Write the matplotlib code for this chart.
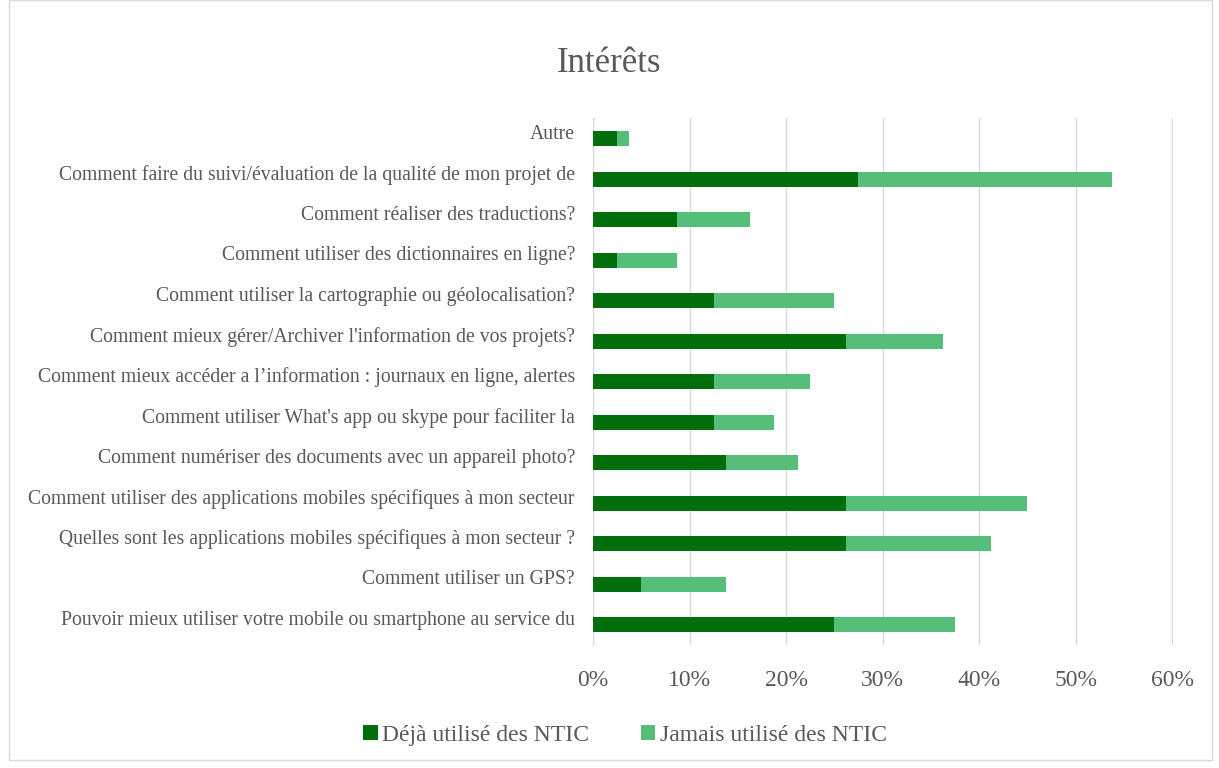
import matplotlib.pyplot as plt
import matplotlib.transforms as mtransforms
from matplotlib.patches import Rectangle
from matplotlib.ticker import PercentFormatter

plt.rcParams['font.family'] = ['Liberation Serif', 'DejaVu Serif']

# categories from top to bottom
categories = [
    "Autre",
    "Comment faire du suivi/évaluation de la qualité de mon projet de",
    "Comment réaliser des traductions?",
    "Comment utiliser des dictionnaires en ligne?",
    "Comment utiliser la cartographie ou géolocalisation?",
    "Comment mieux gérer/Archiver l'information de vos projets?",
    "Comment mieux accéder a l’information : journaux en ligne, alertes",
    "Comment utiliser What's app ou skype pour faciliter la",
    "Comment numériser des documents avec un appareil photo?",
    "Comment utiliser des applications mobiles spécifiques à mon secteur",
    "Quelles sont les applications mobiles spécifiques à mon secteur ?",
    "Comment utiliser un GPS?",
    "Pouvoir mieux utiliser votre mobile ou smartphone au service du",
]
deja = [2.5, 27.5, 8.75, 2.5, 12.5, 26.25, 12.5, 12.5, 13.75, 26.25, 26.25, 5.0, 25.0]
jamais = [1.25, 26.25, 7.5, 6.25, 12.5, 10.0, 10.0, 6.25, 7.5, 18.75, 15.0, 8.75, 12.5]

dark = '#006E0B'
light = '#55BE78'
grey = '#595959'

fig = plt.figure(figsize=(12.19, 7.68), dpi=100)
ax = fig.add_axes([0.4865, 0.160, 0.4758, 0.686])

y = list(range(len(categories)))
ax.barh(y, deja, height=0.37, color=dark, label='Déjà utilisé des NTIC', zorder=3)
ax.barh(y, jamais, left=deja, height=0.37, color=light, label='Jamais utilisé des NTIC', zorder=3)

ax.set_ylim(len(categories) - 0.5, -0.5)
ax.set_xlim(0, 60.1)
ax.set_xticks(range(0, 61, 10))
ax.xaxis.set_major_formatter(PercentFormatter(decimals=0))
ax.set_yticks(y)
ax.set_yticklabels(categories, fontsize=14.2, color=grey)
ax.tick_params(axis='x', labelsize=17, colors=grey, length=0, pad=18)
ax.tick_params(axis='y', length=0, pad=13)
ax.grid(axis='x', color='#D9D9D9', linewidth=1, zorder=0)
for side in ['top', 'right', 'bottom']:
    ax.spines[side].set_visible(False)
ax.spines['left'].set_color('#D9D9D9')

# labels sit a little above the bar centres
offset = mtransforms.ScaledTranslation(0, 0.07, fig.dpi_scale_trans)
for lab in ax.get_yticklabels():
    lab.set_transform(lab.get_transform() + offset)

fig.text(0.5, 0.917, 'Intérêts', ha='center', va='center', fontsize=25, color=grey)

fig.legend(loc='center', bbox_to_anchor=(0.513, 0.042), ncol=2, frameon=False,
           fontsize=17, labelcolor=grey, handlelength=0.6, handleheight=0.6,
           handletextpad=0.2, columnspacing=2.2)

fig.patches.append(Rectangle((0.007, 0.01), 0.987, 0.99, transform=fig.transFigure,
                             fill=False, edgecolor='#D9D9D9', linewidth=1))

fig.savefig('out.png', dpi=100)
